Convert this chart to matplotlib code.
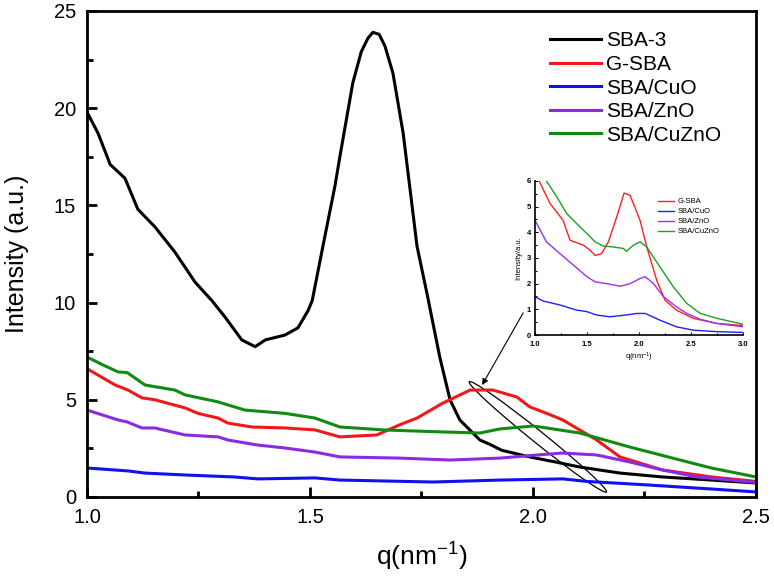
import matplotlib
matplotlib.use('Agg')
import matplotlib.pyplot as plt
from matplotlib.patches import Ellipse
from matplotlib.transforms import ScaledTranslation
from matplotlib.ticker import MultipleLocator

plt.rcParams['font.family'] = ['Liberation Sans', 'DejaVu Sans']
plt.rcParams['mathtext.fontset'] = 'custom'
plt.rcParams['mathtext.rm'] = 'Liberation Sans'
plt.rcParams['mathtext.default'] = 'regular'

# main plot data
q_sba3 = [1.0, 1.025, 1.052, 1.085, 1.114, 1.152, 1.197, 1.242, 1.28, 1.309, 1.347, 1.377, 1.40, 1.444,
          1.473, 1.496, 1.505, 1.529, 1.556, 1.567, 1.596, 1.615, 1.63, 1.641, 1.655, 1.668, 1.686, 1.709,
          1.74, 1.762, 1.791, 1.814, 1.836, 1.881, 1.904, 1.93, 1.993, 2.05, 2.105, 2.195, 2.29, 2.40, 2.5]
i_sba3 = [19.8, 18.7, 17.1, 16.4, 14.8, 13.9, 12.6, 11.06, 10.1, 9.27, 8.08, 7.73, 8.08, 8.33,
          8.7, 9.6, 10.1, 12.9, 16.0, 17.5, 21.3, 22.9, 23.6, 23.9, 23.8, 23.2, 21.8, 18.7,
          12.9, 10.5, 7.2, 5.0, 3.96, 2.93, 2.7, 2.4, 2.06, 1.8, 1.54, 1.23, 1.03, 0.87, 0.72]

q_gsba = [1.0, 1.063, 1.092, 1.123, 1.152, 1.22, 1.249, 1.294, 1.316, 1.37, 1.444, 1.511, 1.567, 1.65,
          1.70, 1.74, 1.798, 1.859, 1.91, 1.964, 1.993, 2.031, 2.067, 2.143, 2.195, 2.29, 2.40, 2.5]
i_gsba = [6.6, 5.76, 5.5, 5.1, 5.0, 4.58, 4.3, 4.06, 3.8, 3.6, 3.55, 3.45, 3.09, 3.19,
          3.7, 4.06, 4.83, 5.5, 5.5, 5.14, 4.63, 4.3, 3.96, 2.93, 2.06, 1.39, 1.03, 0.8]

q_cuo = [1.0, 1.092, 1.13, 1.22, 1.33, 1.383, 1.511, 1.567, 1.776, 1.926, 2.067, 2.121, 2.256, 2.40, 2.5]
i_cuo = [1.49, 1.34, 1.23, 1.13, 1.03, 0.93, 0.98, 0.87, 0.77, 0.87, 0.93, 0.8, 0.62, 0.41, 0.26]

q_zno = [1.0, 1.07, 1.09, 1.123, 1.152, 1.22, 1.294, 1.316, 1.383, 1.444, 1.511, 1.567, 1.70, 1.814,
         1.926, 2.031, 2.067, 2.143, 2.217, 2.29, 2.368, 2.5]
i_zno = [4.47, 3.96, 3.86, 3.55, 3.55, 3.19, 3.09, 2.93, 2.67, 2.52, 2.31, 2.06, 2.0, 1.9,
         2.0, 2.2, 2.26, 2.16, 1.8, 1.39, 1.03, 0.75]

q_cuzno = [1.0, 1.035, 1.07, 1.09, 1.13, 1.197, 1.22, 1.294, 1.354, 1.444, 1.511, 1.567, 1.664, 1.776,
           1.881, 1.926, 2.0, 2.016, 2.105, 2.217, 2.33, 2.40, 2.5]
i_cuzno = [7.2, 6.8, 6.43, 6.4, 5.76, 5.5, 5.25, 4.89, 4.47, 4.3, 4.06, 3.6, 3.45, 3.36,
           3.29, 3.5, 3.65, 3.6, 3.29, 2.57, 1.9, 1.49, 1.03]

# inset data
qi_gsba = [1.04, 1.145, 1.27, 1.337, 1.466, 1.53, 1.578, 1.64, 1.706, 1.786, 1.857, 1.915, 2.01, 2.075,
           2.17, 2.25, 2.36, 2.52, 2.75, 3.0]
ii_gsba = [6.0, 5.12, 4.47, 3.69, 3.5, 3.3, 3.1, 3.17, 3.63, 4.6, 5.53, 5.44, 4.47, 3.43,
           2.14, 1.36, 0.97, 0.65, 0.45, 0.37]
qi_cuo = [1.0, 1.08, 1.24, 1.40, 1.50, 1.59, 1.72, 1.88, 1.98, 2.06, 2.20, 2.36, 2.52, 2.75, 3.0]
ii_cuo = [1.49, 1.32, 1.17, 0.97, 0.91, 0.78, 0.71, 0.78, 0.84, 0.84, 0.58, 0.32, 0.19, 0.13, 0.1]
qi_zno = [1.0, 1.11, 1.24, 1.37, 1.50, 1.578, 1.69, 1.82, 1.915, 2.01, 2.06, 2.14, 2.236, 2.36, 2.46,
          2.59, 2.75, 3.0]
ii_zno = [4.47, 3.63, 3.17, 2.72, 2.27, 2.07, 2.0, 1.9, 2.0, 2.2, 2.27, 2.0, 1.49, 1.1, 0.84,
          0.61, 0.45, 0.32]
qi_cuzno = [1.11, 1.21, 1.305, 1.40, 1.50, 1.578, 1.66, 1.754, 1.85, 1.88, 1.947, 2.01, 2.075, 2.20,
            2.33, 2.46, 2.59, 2.75, 3.0]
ii_cuzno = [6.0, 5.38, 4.73, 4.34, 3.95, 3.63, 3.46, 3.43, 3.37, 3.26, 3.5, 3.63, 3.43, 2.66,
            1.88, 1.23, 0.84, 0.65, 0.42]

fig = plt.figure(figsize=(7.74, 5.76), dpi=100)
ax = fig.add_axes([0.1124, 0.1372, 0.8643, 0.8438])

ax.plot(q_sba3, i_sba3, color='black', lw=2.2, label='SBA-3')
ax.plot(q_gsba, i_gsba, color='#f01818', lw=2.2, label='G-SBA')
ax.plot(q_cuo, i_cuo, color='#1010f0', lw=2.2, label='SBA/CuO')
ax.plot(q_zno, i_zno, color='#8a2be2', lw=2.2, label='SBA/ZnO')
ax.plot(q_cuzno, i_cuzno, color='#108a10', lw=2.2, label='SBA/CuZnO')

ax.set_xlim(1.0, 2.5)
ax.set_ylim(0, 25)
ax.xaxis.set_major_locator(MultipleLocator(0.5))
ax.xaxis.set_minor_locator(MultipleLocator(0.25))
ax.yaxis.set_major_locator(MultipleLocator(5))
ax.yaxis.set_minor_locator(MultipleLocator(2.5))
ax.tick_params(which='both', direction='in', top=False, right=False, width=2, labelsize=14.5)
ax.tick_params(which='major', length=7, pad=8)
ax.tick_params(which='minor', length=4)
for s in ax.spines.values():
    s.set_linewidth(2)
ax.set_xlabel('q(nm$^{-1}$)', fontsize=19, labelpad=10)
ax.set_ylabel('Intensity (a.u.)', fontsize=18, labelpad=18)

ax.legend(loc='upper left', bbox_to_anchor=(0.692, 0.958), frameon=False, fontsize=15,
          borderpad=0, borderaxespad=0, handlelength=2.45, handletextpad=0.25, labelspacing=0.22)

# ellipse around the peak region + arrow to the inset
ell = Ellipse((0, 0), 1.76, 0.12, angle=-38.8, fill=False, ec='black', lw=0.9,
              transform=fig.dpi_scale_trans + ScaledTranslation(2.011, 3.09, ax.transData))
ax.add_patch(ell)
ax.annotate('', xy=(1.886, 5.76), xytext=(1.978, 9.47),
            arrowprops=dict(arrowstyle='-|>', color='black', lw=0.8, mutation_scale=9,
                            shrinkA=0, shrinkB=0))

# inset
axi = fig.add_axes([0.6912, 0.4184, 0.2687, 0.2674])
axi.plot(qi_gsba, ii_gsba, color='#ff2020', lw=1.0, label='G-SBA')
axi.plot(qi_cuo, ii_cuo, color='#2020ff', lw=1.0, label='SBA/CuO')
axi.plot(qi_zno, ii_zno, color='#9933ee', lw=1.0, label='SBA/ZnO')
axi.plot(qi_cuzno, ii_cuzno, color='#20a020', lw=1.0, label='SBA/CuZnO')
axi.set_xlim(1.0, 3.0)
axi.set_ylim(0, 6)
axi.xaxis.set_major_locator(MultipleLocator(0.5))
axi.xaxis.set_minor_locator(MultipleLocator(0.25))
axi.yaxis.set_major_locator(MultipleLocator(1))
axi.yaxis.set_minor_locator(MultipleLocator(0.5))
axi.spines['top'].set_visible(False)
axi.spines['right'].set_visible(False)
for s in ['left', 'bottom']:
    axi.spines[s].set_linewidth(1.2)
axi.tick_params(which='both', direction='in', width=0.8, labelsize=5.5)
axi.tick_params(axis='x', pad=4)
axi.tick_params(axis='y', pad=3)
axi.tick_params(which='major', length=2.5)
axi.tick_params(which='minor', length=1.5)
for lab in axi.get_xticklabels() + axi.get_yticklabels():
    lab.set_fontweight('bold')
axi.set_xlabel('q(nm$^{-1}$)', fontsize=5.5, labelpad=2)
axi.set_ylabel('Intensity/a.u.', fontsize=5.5, labelpad=3)
axi.legend(loc='upper left', bbox_to_anchor=(0.59, 0.89), frameon=False, fontsize=5.5,
           borderpad=0, borderaxespad=0, handlelength=2.2, handletextpad=0.4, labelspacing=0.35)

fig.savefig('out.png', dpi=100)
